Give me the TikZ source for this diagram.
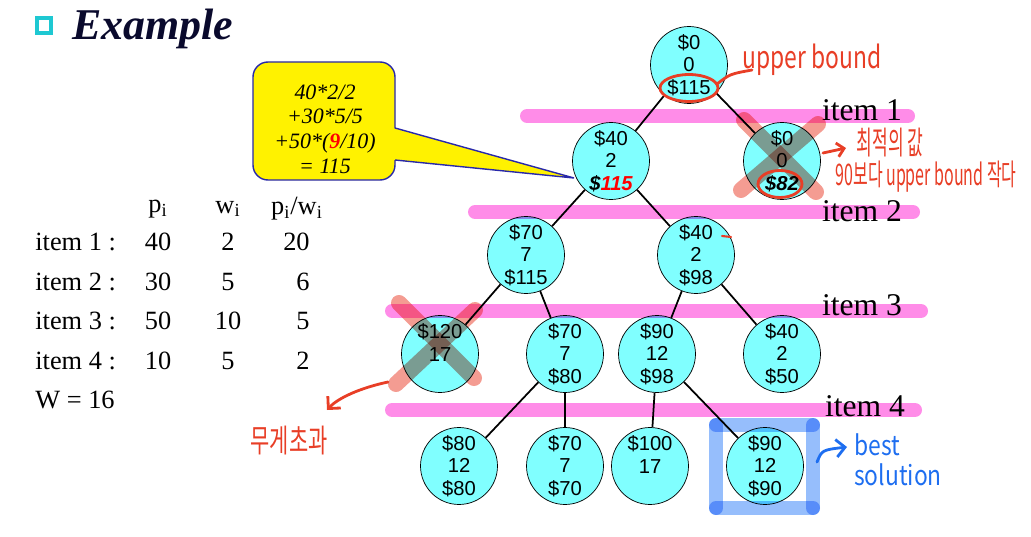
\documentclass[tikz,border=0pt]{standalone}
\usepackage{fontspec}
\setmainfont{Liberation Serif}
\newfontfamily\nodefont{Liberation Sans}
\newfontfamily\handfont{Noto Sans CJK KR}
\usetikzlibrary{arrows.meta}

\definecolor{nodecyan}{RGB}{128,255,255}
\definecolor{bandpink}{RGB}{255,140,232}
\definecolor{crossred}{RGB}{244,156,146}
\definecolor{boxblue}{RGB}{150,190,252}
\definecolor{penred}{RGB}{232,62,38}
\definecolor{penblue}{RGB}{30,110,240}
\definecolor{titleblue}{RGB}{10,10,45}
\definecolor{bulletcyan}{RGB}{30,200,210}
\definecolor{calloutedge}{RGB}{40,40,170}

\begin{document}
\begin{tikzpicture}[x=0.02cm, y=-0.02cm,
		state/.style={circle, draw, fill=nodecyan, minimum size=1.54cm, inner sep=0pt, align=center, font=\nodefont\fontsize{11.5}{12.8}\selectfont},
		edge/.style={line width=1pt},
		band/.style={bandpink, line width=0.28cm, line cap=round},
		cross/.style={crossred, line width=0.32cm, line cap=round},
		frame/.style={boxblue, line width=0.28cm, line cap=round},
		itemlabel/.style={font=\fontsize{18}{18}\selectfont},
		tab/.style={inner sep=0pt, font=\fontsize{15}{15}\selectfont},
		pen/.style={penred, line width=1.6pt, line cap=round},
		hand/.style={penred, font=\handfont\fontsize{13}{13}\selectfont},
	]
		\useasboundingbox (0,0) rectangle (1031,537);
		
		% title
		\filldraw[draw=bulletcyan, fill=white, line width=2.6pt] (37,18) rectangle (51,33);
		\node[anchor=west, text=titleblue, font=\bfseries\itshape\fontsize{25}{25}\selectfont] (title) at (66,29) {Example};
		
		% table of items
		\node[tab] (hp) at (158,209) {p\textsubscript{i}};
		\node[tab] (hw) at (228,209) {w\textsubscript{i}};
		\node[tab] (hr) at (297,209) {p\textsubscript{i}/w\textsubscript{i}};
		\foreach \n/\p/\w/\r in {1/40/2/20, 2/30/5/6, 3/50/10/5, 4/10/5/2} {
			\node[tab, anchor=west] (item\n) at (35,202.5+39.5*\n) {item \n\ :};
			\node[tab] (p\n) at (158,202.5+39.5*\n) {\p};
			\node[tab] (w\n) at (228,202.5+39.5*\n) {\w};
			\node[tab, anchor=east] (r\n) at (310,202.5+39.5*\n) {\r};
		}
		\node[tab, anchor=west] (cap) at (35,400) {W = 16};
		
		% callout
		\filldraw[fill=yellow, draw=calloutedge, line width=0.8pt, rounded corners=0.3cm] (253,62) rectangle (395,180);
		\fill[yellow] (393,128) -- (574,178) -- (393,160) -- cycle;
		\draw[calloutedge, line width=0.8pt] (395,128) -- (574,178) -- (395,160);
		\node[align=center, font=\itshape\fontsize{12.5}{14}\selectfont] (calc) at (325,129)
			{40*2/2\\+30*5/5\\+50*(\textcolor{red}{\textbf{9}}/10)\\= 115};
		
		% state space tree
		\node[state] (root) at (689,65) {\$0\\0\\\$115};
		\node[state] (a) at (611,161) {\$40\\2\\\textbf{\textit{\$\textcolor{red}{115}}}};
		\node[state] (b) at (782,161) {\$0\\0\\\textbf{\textit{\$82}}};
		\node[state] (c) at (526,255) {\$70\\7\\\$115};
		\node[state] (d) at (696,255) {\$40\\2\\\$98};
		\node[state] (e) at (440,354) {\$120\\17\\\mbox{}};
		\node[state] (f) at (565,354) {\$70\\7\\\$80};
		\node[state] (g) at (657,354) {\$90\\12\\\$98};
		\node[state] (h) at (782,354) {\$40\\2\\\$50};
		\node[state] (i) at (459,466) {\$80\\12\\\$80};
		\node[state] (j) at (565,466) {\$70\\7\\\$70};
		\node[state] (k) at (650,466) {\$100\\17\\\mbox{}};
		\node[state] (l) at (765,466) {\$90\\12\\\$90};
		
		\draw[edge] (root) -- (a);
		\draw[edge] (root) -- (b);
		\draw[edge] (a) -- (c);
		\draw[edge] (a) -- (d);
		\draw[edge] (c) -- (e);
		\draw[edge] (c) -- (f);
		\draw[edge] (d) -- (g);
		\draw[edge] (d) -- (h);
		\draw[edge] (f) -- (i);
		\draw[edge] (f) -- (j);
		\draw[edge] (g) -- (k);
		\draw[edge] (g) -- (l);
		
		% levels
		\begin{scope}[blend mode=multiply]
			\draw[band] (527,116) -- (908,116);
			\draw[band] (475,212) -- (913,212);
			\draw[band] (392,311) -- (921,311);
			\draw[band] (392,410) -- (915,410);
		\end{scope}
		\node[itemlabel] (lv1) at (862,110) {item 1};
		\node[itemlabel] (lv2) at (862,211) {item 2};
		\node[itemlabel] (lv3) at (862,305) {item 3};
		\node[itemlabel] (lv4) at (865,406) {item 4};
		
		% pruned and best
		\begin{scope}[blend mode=multiply]
			\draw[cross] (744,120) -- (816,192);
			\draw[cross] (818,124) -- (741,190);
			\draw[cross] (399,303) -- (474,378);
			\draw[cross] (475,310) -- (396,384);
			\draw[frame] (716,425) -- (813,425);
			\draw[frame] (716,508) -- (813,508);
			\draw[frame] (716,425) -- (716,508);
			\draw[frame] (813,425) -- (813,508);
		\end{scope}
		
		% notes
		\draw[pen] (689,88) ellipse [x radius=0.58cm, y radius=0.27cm];
		\draw[pen] (717,84) .. controls (730,74) .. (752,70);
		\node[hand, yscale=1.35] (ub) at (812,60) {upper bound};
		\draw[pen] (780,184) ellipse [x radius=0.44cm, y radius=0.27cm];
		\draw[pen, -{Straight Barb[length=4pt]}] (823,153) -- (846,148);
		\node[hand, xscale=0.75, yscale=1.4] (opt) at (890,143) {최적의 값};
		\node[hand, xscale=0.7, yscale=1.3] (why) at (926,177) {90보다 upper bound 작다};
		\draw[pen, line width=1.2pt] (722,236) -- (731,237);
		\draw[pen, -{Straight Barb[length=5pt]}] (388,382) .. controls (360,388) and (338,398) .. (327,410);
		\node[hand, font=\handfont\fontsize{14}{14}\selectfont, xscale=0.85, yscale=1.3] (over) at (289,441) {무게초과};
		\draw[pen, penblue, -{Straight Barb[length=5pt]}] (817,462) .. controls (822,450) .. (847,447);
		\node[hand, text=penblue, align=left, font=\handfont\fontsize{13}{14}\selectfont, yscale=1.2] (best) at (898,460) {best\\solution};
	\end{tikzpicture}
\end{document}
